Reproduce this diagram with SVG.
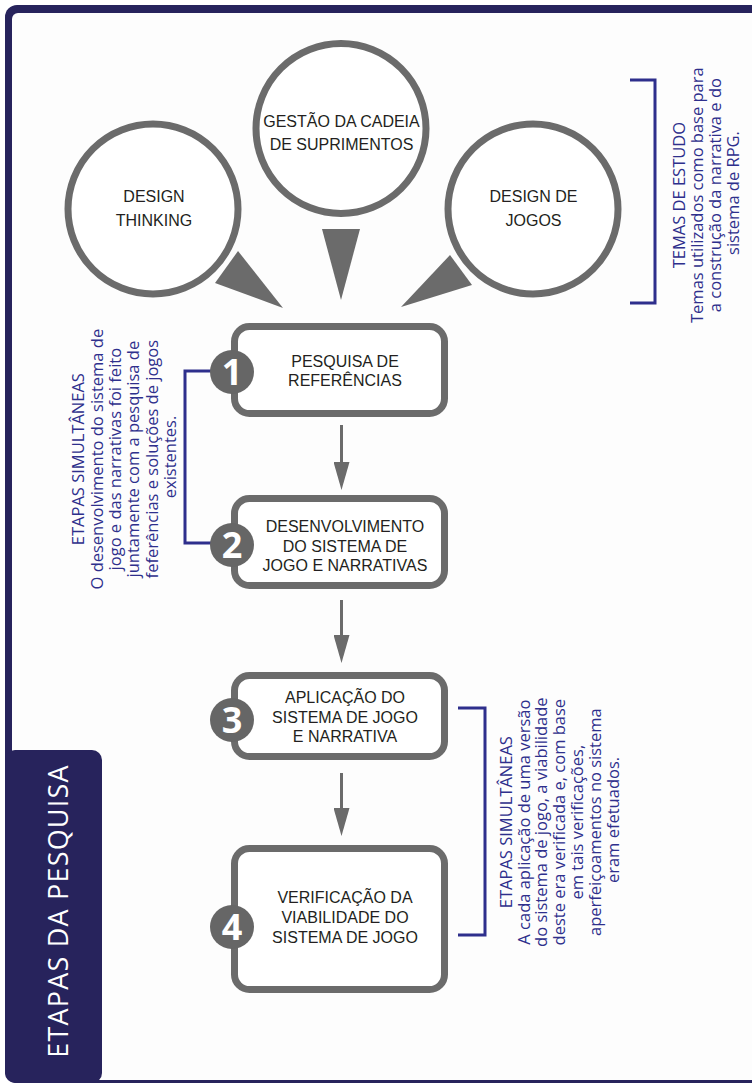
<svg xmlns="http://www.w3.org/2000/svg" width="752" height="1084" viewBox="0 0 752 1084">
  <defs>
    <style>
      .frame { fill: #27235c; }
      .paper { fill: #fdfdfd; }
      .ring { fill: #ffffff; stroke: #6b6b6b; stroke-width: 7; }
      .box { fill: #ffffff; stroke: #6b6b6b; stroke-width: 7; }
      .pointer { fill: #6b6b6b; }
      .badge { fill: #666666; }
      .num { fill: #ffffff; font-family: "Open Sans", "Liberation Sans", sans-serif; font-weight: bold; font-size: 36px; text-anchor: middle; }
      .label { fill: #231f20; font-family: "Liberation Sans", "Open Sans", sans-serif; font-size: 16px; text-anchor: middle; }
      .note { fill: #2e2f8c; font-family: "Open Sans", "Liberation Sans", sans-serif; font-size: 16.5px; text-anchor: middle; }
      .bracket { fill: none; stroke: #2e2f8c; stroke-width: 3; }
      .flow { stroke: #6b6b6b; stroke-width: 3; fill: none; }
      .title { fill: #ffffff; font-family: "Open Sans", "Liberation Sans", sans-serif; font-size: 27px; letter-spacing: 1.2px; text-anchor: middle; }
    </style>
    <marker id="head" markerUnits="userSpaceOnUse" markerWidth="28" markerHeight="16" refX="0" refY="8" orient="auto" viewBox="0 0 28 16">
      <path d="M0,0 L28,8 L0,16 Z" fill="#6b6b6b"/>
    </marker>
  </defs>

  <!-- page frame -->
  <rect class="frame" x="5" y="5" width="800" height="1078" rx="12"/>
  <rect class="paper" x="12" y="13" width="800" height="1067" rx="6"/>

  <!-- side tab -->
  <g id="tab">
    <rect class="frame" x="5" y="750" width="97" height="333" rx="10"/>
    <text class="title" transform="translate(0,911) rotate(-90)" x="0" y="68.3">ETAPAS DA PESQUISA</text>
  </g>

  <!-- study themes -->
  <g id="theme-design-thinking">
    <path class="pointer" d="M215,283 L238,251 L283,308 Z"/>
    <circle class="ring" cx="153" cy="209" r="85"/>
    <text class="label" x="154" y="202">DESIGN</text>
    <text class="label" x="154" y="226">THINKING</text>
  </g>
  <g id="theme-supply-chain">
    <path class="pointer" d="M322,229 L360,229 L341,300 Z"/>
    <circle class="ring" cx="341" cy="128.5" r="85"/>
    <text class="label" x="341.5" y="127">GESTÃO DA CADEIA</text>
    <text class="label" x="341.5" y="150">DE SUPRIMENTOS</text>
  </g>
  <g id="theme-game-design">
    <path class="pointer" d="M450,255 L472,285 L401,307 Z"/>
    <circle class="ring" cx="533" cy="209" r="85"/>
    <text class="label" x="533.5" y="202">DESIGN DE</text>
    <text class="label" x="533.5" y="226">JOGOS</text>
  </g>

  <!-- connectors -->
  <g id="connectors">
    <line class="flow" x1="341.5" y1="425" x2="341.5" y2="462" marker-end="url(#head)"/>
    <line class="flow" x1="341.5" y1="600" x2="341.5" y2="635" marker-end="url(#head)"/>
    <line class="flow" x1="341.5" y1="773" x2="341.5" y2="808" marker-end="url(#head)"/>
    <path class="bracket" d="M630,80 H655 V303 H630"/>
    <path class="bracket" d="M212,371 H185 V543 H212"/>
    <path class="bracket" d="M458,708 H485 V935 H458"/>
  </g>

  <!-- research steps -->
  <g id="step-1">
    <rect class="box" x="234.5" y="326.5" width="210" height="87" rx="15"/>
    <circle class="badge" cx="232" cy="372" r="22"/>
    <text class="num" x="232" y="384.5">1</text>
    <text class="label" x="345" y="366.7">PESQUISA DE</text>
    <text class="label" x="345" y="386">REFERÊNCIAS</text>
  </g>
  <g id="step-2">
    <rect class="box" x="234.5" y="498.5" width="210" height="87" rx="15"/>
    <circle class="badge" cx="232" cy="545" r="22"/>
    <text class="num" x="232" y="557.5">2</text>
    <text class="label" x="345" y="531.7">DESENVOLVIMENTO</text>
    <text class="label" x="345" y="551.5">DO SISTEMA DE</text>
    <text class="label" x="345" y="571">JOGO E NARRATIVAS</text>
  </g>
  <g id="step-3">
    <rect class="box" x="234.5" y="675.5" width="210" height="81" rx="15"/>
    <circle class="badge" cx="232" cy="720" r="22"/>
    <text class="num" x="232" y="732.5">3</text>
    <text class="label" x="345" y="703">APLICAÇÃO DO</text>
    <text class="label" x="345" y="722.7">SISTEMA DE JOGO</text>
    <text class="label" x="345" y="742.3">E NARRATIVA</text>
  </g>
  <g id="step-4">
    <rect class="box" x="234.5" y="848.5" width="210" height="141" rx="15"/>
    <circle class="badge" cx="232" cy="927" r="22"/>
    <text class="num" x="232" y="939.5">4</text>
    <text class="label" x="345" y="903">VERIFICAÇÃO DA</text>
    <text class="label" x="345" y="922.7">VIABILIDADE DO</text>
    <text class="label" x="345" y="942.5">SISTEMA DE JOGO</text>
  </g>

  <!-- side notes -->
  <g id="note-themes">
    <text class="note" transform="translate(0,193) rotate(-90)">
      <tspan x="0" y="685">TEMAS DE ESTUDO</tspan>
      <tspan x="0" y="703">Temas utilizados como base para</tspan>
      <tspan x="0" y="721">a construção da narrativa e do</tspan>
      <tspan x="0" y="739">sistema de RPG.</tspan>
    </text>
  </g>
  <g id="note-steps-1-2">
    <text class="note" transform="translate(0,457) rotate(-90)">
      <tspan x="0" y="84">ETAPAS SIMULTÂNEAS</tspan>
      <tspan x="0" y="102.5">O desenvolvimento do sistema de</tspan>
      <tspan x="0" y="121">jogo e das narrativas foi feito</tspan>
      <tspan x="0" y="139">juntamente com a pesquisa de</tspan>
      <tspan x="0" y="157.5">feferências e soluções de jogos</tspan>
      <tspan x="0" y="176">existentes.</tspan>
    </text>
  </g>
  <g id="note-steps-3-4">
    <text class="note" transform="translate(0,820) rotate(-90)">
      <tspan x="0" y="511.7">ETAPAS SIMULTÂNEAS</tspan>
      <tspan x="0" y="529.5">A cada aplicação de uma versão</tspan>
      <tspan x="0" y="547.3">do sistema de jogo, a viabilidade</tspan>
      <tspan x="0" y="565">deste era verificada e, com base</tspan>
      <tspan x="0" y="583">em tais verificações,</tspan>
      <tspan x="0" y="600.7">aperfeiçoamentos no sistema</tspan>
      <tspan x="0" y="618.5">eram efetuados.</tspan>
    </text>
  </g>
</svg>
